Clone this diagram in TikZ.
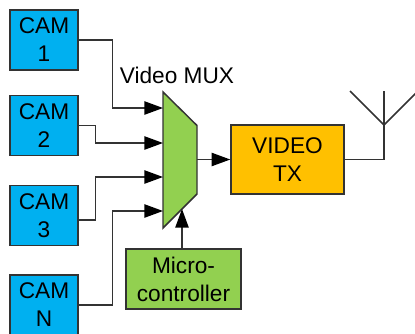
\documentclass[tikz,border=0pt]{standalone}
\usepackage{fontspec}
\setmainfont{Liberation Sans}
\usetikzlibrary{arrows.meta}

\definecolor{cambl}{HTML}{00B0F0}
\definecolor{mcugr}{HTML}{92D050}
\definecolor{txor}{HTML}{FFC000}
\definecolor{wire}{HTML}{333333}

\tikzset{every picture/.style={line width=0.75pt}}
\tikzset{
  label/.style={font=\fontsize{17}{21}\selectfont,align=center,text=black},
  block/.style={label,draw=wire,line width=1.1pt,inner sep=0pt},
  cambox/.style={block,fill=cambl,minimum width=51pt,minimum height=45pt},
  link/.style={draw=wire,line width=1.1pt},
  feed/.style={link,-{Triangle[length=14pt,width=10pt,color=black]}},
}

\begin{document}
\begin{tikzpicture}[x=0.75pt,y=0.75pt,yscale=-1,xscale=1]
\useasboundingbox (0,0) rectangle (415,333);

% cameras
\node [cambox] (cam1) at (44,40) {CAM\\1};
\node [cambox] (cam2) at (44,125.5) {CAM\\2};
\node [cambox] (cam3) at (44,215.5) {CAM\\3};
\node [cambox] (camn) at (44,305) {CAM\\N};

% mux
\draw [link,fill=mcugr] (163,92) -- (197,125.5) -- (197,194) -- (163,228) -- cycle ;
\node [label,anchor=base] (muxlabel) at (177,83) {Video MUX};
\coordinate (muxa) at (163,108);
\coordinate (muxb) at (163,143);
\coordinate (muxc) at (163,177);
\coordinate (muxd) at (163,211);
\coordinate (muxout) at (197,159.5);
\coordinate (muxctl) at (182,209);

\node [block,fill=txor,minimum width=84.75pt,minimum height=51.75pt] (tx) at (287.5,159.5) {VIDEO\\TX};
\node [block,fill=mcugr,minimum width=86.25pt,minimum height=45pt] (mcu) at (183.5,279) {Micro-\\controller};

% inputs
\draw [feed] (cam1.east) -- ++(34,0) |- (muxa) ;
\draw [feed] (cam2.east) -- ++(17,0) |- (muxb) ;
\draw [feed] ([yshift=3.4pt]cam3.east) -- ++(17,0) |- (muxc) ;
\draw [feed] (camn.east) -- ++(34,0) |- (muxd) ;
\draw [feed] (muxout) -- (tx.west) ;
\draw [feed] (mcu.north -| muxctl) -- (muxctl) ;

% antenna
\coordinate (anttop) at (384,91);
\coordinate (antfoot) at (384,125);
\coordinate (antleft) at (350,91);
\coordinate (antright) at (418,91);
\draw [link] (tx.east) -| (anttop) ;
\draw [link] (antleft) -- (antfoot) -- (antright) ;

\end{tikzpicture}
\end{document}
